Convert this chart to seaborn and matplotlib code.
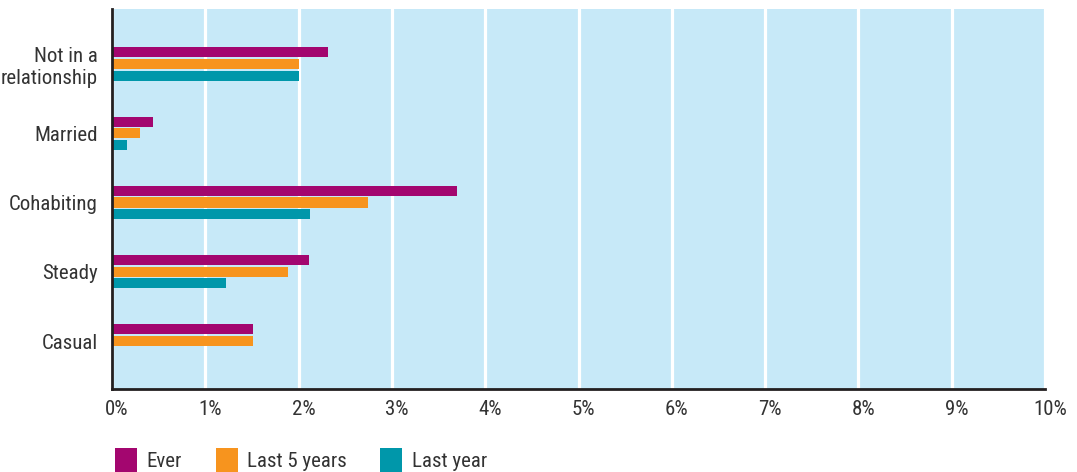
import matplotlib
matplotlib.use("Agg")
import matplotlib.pyplot as plt
import matplotlib.transforms as mtransforms
from matplotlib import font_manager
from matplotlib.ticker import FuncFormatter, MultipleLocator
import pandas as pd
import seaborn as sns

# Share of respondents by relationship type and time frame (percent)
categories = ["Not in a\nrelationship", "Married", "Cohabiting", "Steady", "Casual"]
series_names = ["Ever", "Last 5 years", "Last year"]
ever = [2.31, 0.44, 3.70, 2.11, 1.51]
last_5_years = [2.00, 0.30, 2.74, 1.89, 1.51]
last_year = [2.00, 0.16, 2.12, 1.22, 0.0]

colors = ["#A3066F", "#F7941E", "#0097AA"]
bg = "#C7E9F8"
ink = "#333333"

df = pd.DataFrame({
    "category": categories * 3,
    "series": [s for s in series_names for _ in categories],
    "value": ever + last_5_years + last_year,
})


def pick_narrow_font():
    """Return a condensed family if one is installed, else a regular one."""
    names = {f.name for f in font_manager.fontManager.ttflist}
    preferred = ["Roboto Condensed", "Liberation Sans Narrow", "Noto Sans Condensed",
                 "Open Sans Condensed", "DejaVu Sans Condensed", "Arial Narrow"]
    for name in preferred:
        if name in names:
            return name, 15
    for name in sorted(names):
        if "Condensed" in name or "Narrow" in name:
            return name, 15
    return "Roboto", 13


font_name, font_size = pick_narrow_font()

sns.set_theme(style="white")
plt.rcParams["font.family"] = [font_name, "DejaVu Sans"]

fig = plt.figure(figsize=(10.77, 4.72), dpi=100)
ax = fig.add_axes([112 / 1077, (472 - 389) / 472, (1045 - 112) / 1077, (389 - 9) / 472])
ax.set_facecolor(bg)

sns.barplot(data=df, y="category", x="value", hue="series", order=categories,
            hue_order=series_names, palette=colors, orient="h",
            width=0.5, gap=0.13, saturation=1, linewidth=0, ax=ax, zorder=3)

ax.set_xlim(0, 10)
ax.set_ylim(4.693, -0.794)
ax.xaxis.set_major_locator(MultipleLocator(1))
ax.xaxis.set_major_formatter(FuncFormatter(lambda v, _: f"{int(v)}%"))
ax.grid(axis="x", color="white", linewidth=2.3, zorder=1)
ax.grid(axis="y", visible=False)
ax.set_axisbelow(True)
ax.set_xlabel("")
ax.set_ylabel("")

for side in ["top", "right"]:
    ax.spines[side].set_visible(False)
for side in ["left", "bottom"]:
    ax.spines[side].set_color("#231F20")
    ax.spines[side].set_linewidth(2.0)
    ax.spines[side].set_zorder(5)

ax.tick_params(axis="both", length=0, labelsize=font_size, labelcolor=ink)
ax.tick_params(axis="x", pad=8)
ax.tick_params(axis="y", pad=10)
shift = mtransforms.ScaledTranslation(5 / 100, 0, fig.dpi_scale_trans)
for lbl in ax.get_xticklabels():
    lbl.set_transform(lbl.get_transform() + shift)
for lbl in ax.get_yticklabels():
    lbl.set_horizontalalignment("right")
    lbl.set_multialignment("right")

sns.move_legend(ax, "lower left", bbox_to_anchor=(107 / 1077, -8 / 472),
                bbox_transform=fig.transFigure, ncol=3, frameon=False, title=None,
                fontsize=font_size, handlelength=1.05, handleheight=1.4,
                handletextpad=0.45, columnspacing=1.62, borderaxespad=0)
for t in ax.get_legend().get_texts():
    t.set_color(ink)

fig.savefig("out.png", dpi=100)
